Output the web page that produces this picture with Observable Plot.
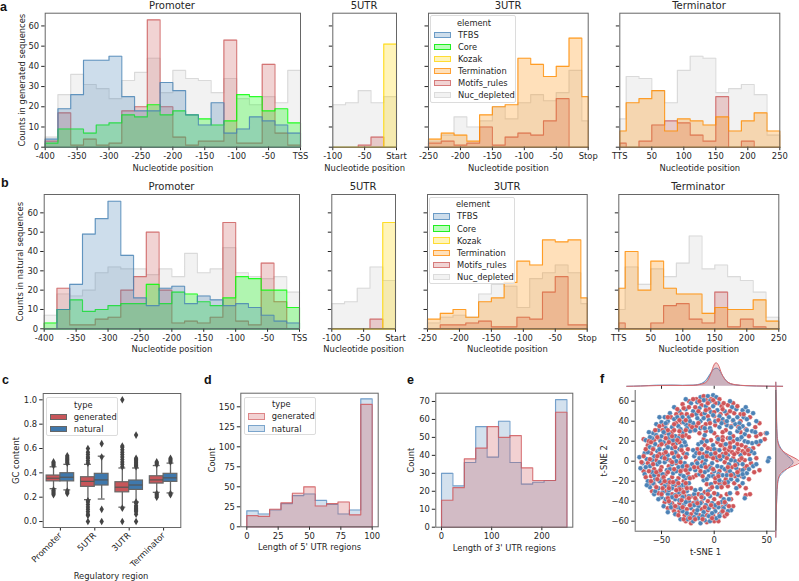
<!DOCTYPE html>
<html><head><meta charset="utf-8">
<script src="https://cdn.jsdelivr.net/npm/d3@7"></script>
<script src="https://cdn.jsdelivr.net/npm/@observablehq/plot@0.6"></script>
<style>
html,body{margin:0;padding:0;background:#fff;overflow:hidden}
#page{position:relative;width:799px;height:581px;font-family:"DejaVu Sans",sans-serif;color:#262626;overflow:hidden}
#page svg{position:absolute;background:transparent;overflow:visible}
.t{position:absolute;white-space:nowrap}
.title{font-size:10px;transform:translate(-50%,-50%)}
.xl{font-size:8.4px;transform:translate(-50%,-50%)}
.letter{font-family:"Liberation Sans",sans-serif;font-weight:bold;font-size:12.5px;line-height:1;color:#111;transform:translateY(-50%)}
.lg{position:absolute;background:rgba(255,255,255,.8);border:1px solid #dcdcdc;border-radius:2px;box-sizing:border-box;font-size:8.3px}
.lg .s{position:absolute;box-sizing:border-box}
.lg .l{position:absolute;transform:translateY(-50%);white-space:nowrap}
</style></head><body><div id="page"></div>
<script>
// ---------- histogram bins
const promoterEdges=[-400,-380,-360,-340,-320,-300,-280,-260,-240,-220,-200,-180,-160,-140,-120,-100,-80,-60,-40,-20,0];
const fiveEdges=[-100,-80,-60,-40,-20,0];
const threeEdges=[-250,-230,-210,-190,-170,-150,-130,-110,-90,-70,-50,-30,-10,0];
const termEdges=[0,10,30,50,70,90,110,130,150,170,190,210,230,250];
// ---------- panel a, generated
const aPromTFBS=[4,19,26,43,43,45,25,18,18,32,28,16,11,22,7,9,15,13,11,7];
const aPromCore=[2,9,9,7,11,12,16,15,21,16,18,16,14,11,13,26,25,18,19,12];
const aPromMotif=[3,17,1,4,1,2,18,20,63,20,5,1,3,3,53,2,2,41,7,1];
const aPromNuc=[5,26,36,31,29,24,33,37,44,27,38,34,33,27,34,24,21,25,22,38];
const aFiveKozak=[0,0,0,0,51];
const aFiveMotif=[0,0,1,5,0];
const aFiveNuc=[21,22,28,22,25];
const aThreeTerm=[4,7,6,3,16,20,21,44,41,35,40,54,25];
const aThreeMotif=[2,3,1,2,10,1,5,7,6,13,24,0,0];
const aThreeNuc=[3,6,15,10,13,20,14,22,26,23,27,38,13];
const aTermTerm=[8,22,24,28,8,14,13,11,15,8,13,17,8];
const aTermMotif=[2,0,3,11,13,12,6,3,25,0,3,0,0];
const aTermNuc=[14,35,34,28,22,38,45,44,27,29,31,26,6];
// ---------- panel b, natural
const bPromTFBS=[0,10,23,49,57,66,38,16,12,21,22,13,17,15,12,13,11,7,4,3];
const bPromCore=[3,10,15,9,10,12,13,13,23,13,19,18,14,12,16,27,26,20,20,11];
const bPromMotif=[0,21,2,2,5,6,20,27,50,20,3,4,3,6,55,4,2,34,14,0];
const bPromNuc=[7,18,17,20,29,32,31,31,28,31,27,39,29,31,42,29,27,26,27,19];
const bFiveKozak=[0,0,0,0,55];
const bFiveMotif=[0,0,0,5,0];
const bFiveNuc=[13,14,21,32,25];
const bThreeTerm=[5,8,10,6,14,16,24,35,33,46,45,46,16];
const bThreeMotif=[0,2,2,3,4,1,1,6,5,19,27,2,2];
const bThreeNuc=[3,6,7,6,18,23,22,11,26,29,33,29,13];
const bTermTerm=[21,40,20,35,21,18,18,8,11,10,10,15,4];
const bTermMotif=[3,0,0,3,12,13,5,3,19,1,5,1,0];
const bTermNuc=[10,32,23,31,27,34,48,31,33,27,25,19,6];
// ---------- ticks
const promTicks=[-400,-350,-300,-250,-200,-150,-100,-50,0];
const fiveTicks=[-100,-50,0];
const threeTicks=[-250,-200,-150,-100,-50,0];
const termTicks=[0,50,100,150,200,250];
const countTicks=[0,10,20,30,40,50,60];
// ---------- panel c
const regions=["Promoter","5UTR","3UTR","Terminator"];
const genQ1=[.33,.285,.24,.312],genMed=[.356,.33,.282,.342],genQ3=[.378,.364,.323,.372],genLo=[.27,.18,.118,.24],genHi=[.45,.47,.44,.46];
const natQ1=[.33,.296,.26,.326],natMed=[.364,.342,.30,.359],natQ3=[.397,.392,.337,.392],natLo=[.26,.185,.16,.235],natHi=[.47,.537,.44,.48];
const genOutliers=[[0,[.22,.23,.24,.25,.26,.46,.47,.48,.49]],[1,[0,.05,.06,.08,.1,.12,.14,.16,.17,.48,.5,.52,.53,.55,.57,.6]],[2,[0,.11,.45,.47,.49,.51,.53,.55,.57,.59,.61,.62,1]],[3,[.2,.21,.22,.23,.47,.48,.49]]];
const natOutliers=[[0,[.23,.24,.25,.48,.49,.5,.51,.52,.53,.54]],[1,[0,.1,.53,.64]],[2,[0,.06,.08,.09,.1,.11,.12,.13,.15,.16,.45,.46,.47,.48,.49,.5,.51,.52,.71]],[3,[.22,.23,.49,.5,.51,.52]]];
// ---------- panel d, e
const dEdges=[0,9.09,18.18,27.27,36.36,45.45,54.55,63.64,72.73,81.82,90.91,100];
const dNatural=[20,16,21,29,39,41,33,28,16,21,160];
const dGenerated=[14,13,22,30,42,50,26,29,31,15,153];
const eEdges=[0,22.7,45.5,68.2,90.9,113.6,136.4,159.1,181.8,204.5,227.3,250];
const eNatural=[30,23,36,56,39,59,36,24,25,26,71];
const eGenerated=[15,22,38,44,56,50,51,33,26,26,64];
// ---------- panel f
const tsneNatural=[[-13,64],[-6,65],[-1,66],[2,64],[-4,60],[-10,61],[-16,59],[-22,58],[-27,62],[4,58],[-1,55],[-8,55],[-14,53],[-20,50],[-27,52],[-33,50],[-38,54],[-42,48],[-47,44],[-52,44],[-50,39],[-55,37],[-44,40],[-38,42],[-30,44],[-24,44],[-17,47],[-9,48],[-3,49],[3,51],[10,50],[15,60],[17,54],[21,52],[27,51],[30,54],[32,50],[37,48],[28,44],[22,44],[14,44],[8,42],[1,40],[-5,41],[-13,40],[-20,38],[-27,37],[-34,35],[-40,34],[-46,33],[-53,31],[-58,28],[-62,29],[-59,23],[-65,21],[-50,25],[-43,27],[-37,25],[-30,29],[-23,30],[-13,33],[-4,33],[5,34],[12,36],[20,37],[27,35],[33,37],[40,40],[36,30],[29,27],[22,30],[15,28],
[-56,17],[-48,19],[-42,21],[-36,18],[-30,22],[-27,16],[-33,12],[-40,13],[-47,11],[-54,10],[-61,14],[-66,8],[-71,4],[-64,2],[-57,5],[-50,4],[-44,6],[-38,4],[-32,3],[-26,7],[-68,-2],[-61,-5],[-54,-3],[-47,-1],[-40,-3],[-34,-6],[-28,-2],[-23,-8],[-70,-7],[-66,-13],[-59,-11],[-52,-10],[-45,-9],[-39,-12],[-32,-13],[-27,-17],[-63,-20],[-56,-18],[-49,-17],[-43,-19],[-36,-20],[-30,-24],[-24,-22],[-61,-26],[-53,-27],[-47,-25],[-40,-27],[-34,-31],[-26,-30],[-19,-33],[-13,-28],
[-57,-33],[-50,-36],[-44,-33],[-37,-38],[-30,-36],[-24,-40],[-17,-39],[-10,-37],[-4,-35],[3,-33],[9,-38],[-48,-45],[-42,-42],[-35,-46],[-29,-44],[-22,-47],[-15,-45],[-8,-44],[-2,-42],[4,-46],[11,-43],[16,-49],[-44,-51],[-37,-53],[-30,-50],[-24,-56],[-17,-52],[-10,-51],[-5,-55],[1,-50],[7,-51],[13,-50],[-32,-58],[-25,-58],[-20,-60],[-13,-62],[-9,-59],[-4,-60],[2,-57],[-15,-57],
[-19,5],[-21,-3],[-18,-9],[-20,11],[-15,17],[-12,12],[-14,3],[-12,-5],[-14,-13],[-10,-19],[-7,20],[-7,9],[-8,1],[-6,-9],[-5,-15],[-3,-23],[-1,16],[0,6],[-2,-2],[0,-10],[2,-17],[3,-26],[4,22],[5,11],[6,2],[7,-6],[8,-14],[9,-21],[11,17],[13,6],[14,-3],[15,-10],[16,-18],[19,14],[20,0],[21,-7],[23,-14],[25,6],[27,-3],
[33,12],[38,8],[29,20],[36,18],[52,3],[51,0],[50,28],[44,20],[37,-5],[31,-12],[27,-22],[21,-27],[29,-37],[15,-32],[34,2],[24,22],
[-46,38],[-35,44],[-29,39],[-23,40],[-16,43],[-10,43],[-1,46],[5,45],[18,41],[24,38],[31,42],[-32,32],[-26,33],[-18,31],[-9,26],[-3,30],[-48,29],[-55,26],[-61,24],[-44,23],[-39,21],[-34,23],[-28,19],[-51,20],[-58,13],[-52,12],[-44,14],[-37,9],[-31,15],[-63,9],[-59,1],[-52,-1],[-45,2],[-36,0],[-30,-5],[-25,-5],[-65,-6],[-57,-14],[-49,-13],[-42,-8],[-36,-10],[-29,-15],[-24,-16],[-64,-24],[-58,-22],[-52,-20],[-45,-21],[-39,-23],[-33,-26],[-27,-25],[-56,-30],[-49,-31],[-43,-29],[-37,-34],[-30,-31],[-24,-35],[-18,-29],[-12,-34],[-6,-30],[-53,-38],[-46,-38],[-40,-36],[-33,-39],[-27,-41],[-19,-44],[-13,-42],[-5,-47],[1,-44],[7,-41],[14,-38],[-41,-46],[-32,-47],[-26,-52],[-19,-56],[-11,-55],[-2,-52],[5,-55],[-16,-49],[9,-47],
[-17,8],[-16,-2],[-11,4],[-9,-3],[-9,-11],[-7,-18],[-12,19],[-3,7],[-3,-7],[-1,-15],[2,4],[3,-5],[4,-13],[5,-19],[7,-25],[0,12],[9,5],[10,-8],[12,-14],[13,-21],[16,1],[18,-13],[22,-3],[22,-19],[27,-9],[28,-16],[15,23],[22,22],[12,40],[7,38],[-9,33],[16,34],[24,33],[31,31],[39,29],[26,24],[32,19],[40,19],[35,10],[40,-3],[33,-8],[27,-13]];
const tsneGenerated=[[-10,65],[-8,61],[-3,62],[5,62],[-17,62],[-24,60],[-30,57],[-12,56],[-5,52],[1,58],[7,55],[13,56],[18,58],[-18,54],[-24,54],[-31,47],[-36,47],[-45,38],[-41,44],[-26,47],[-12,47],[-6,45],[0,45],[6,47],[12,47],[19,48],[25,47],[34,44],[39,34],[43,38],[18,40],[25,40],[30,32],[11,31],[1,36],[-8,37],[-17,35],[-24,36],[-31,39],[-36,38],[-48,36],[-52,22],
[-67,22],[-63,16],[-57,21],[-47,28],[-40,29],[-33,25],[-27,26],[-20,31],[-14,28],[-8,30],[0,28],[8,29],[18,25],[25,29],[33,25],[40,25],[44,27],[48,22],[49,28],[42,17],[37,13],[30,14],[33,7],[40,3],[35,-2],[29,-7],[38,-11],[43,-9],[33,-18],[26,-15],[30,-27],[22,-32],[16,-38],[30,-34],[34,-33],[24,-25],
[-52,15],[-45,16],[-39,17],[-33,19],[-25,12],[-29,8],[-36,8],[-42,1],[-48,7],[-55,1],[-60,8],[-67,5],[-63,-2],[-57,-8],[-50,-6],[-43,-5],[-36,-2],[-30,-8],[-25,-12],[-20,-16],[-67,-10],[-60,-15],[-53,-14],[-46,-13],[-40,-16],[-34,-17],[-29,-20],[-22,-27],[-65,-16],[-62,-24],[-57,-23],[-50,-22],[-44,-24],[-37,-24],[-31,-28],[-59,-30],[-53,-32],[-46,-30],[-40,-33],[-33,-33],[-28,-35],[-22,-35],[-15,-33],[-9,-31],[-4,-28],
[-47,-41],[-40,-42],[-33,-42],[-26,-39],[-20,-42],[-12,-41],[-6,-40],[0,-38],[6,-35],[12,-33],[18,-45],[8,-46],[0,-46],[-6,-49],[-12,-48],[-19,-50],[-26,-48],[-33,-50],[-40,-47],[-44,-47],[-38,-50],[-28,-54],[-22,-53],[-14,-54],[-7,-54],[-1,-54],[5,-53],[10,-55],[-27,-60],[-22,-62],[-7,-61],[0,-60],[4,-60],[12,-53],
[3,24],[8,24],[13,23],[18,20],[22,17],[-3,21],[-10,22],[-16,12],[-17,0],[-15,-6],[-17,-14],[-11,-1],[-10,7],[-9,16],[-3,12],[-4,5],[-4,-5],[-2,-13],[1,-21],[-7,-23],[3,1],[2,11],[3,19],[8,16],[8,7],[10,12],[10,-1],[14,11],[15,18],[17,9],[18,3],[17,-6],[12,-10],[11,-18],[5,-10],[5,-22],[13,-25],[19,-22],[20,-15],[24,-9],[24,1],[27,10],[26,16],[29,1],[31,-5],[22,9],
[-20,62],[-14,60],[-6,58],[-1,61],[9,58],[-29,53],[-35,52],[-21,46],[-15,50],[-8,51],[0,49],[8,52],[15,50],[22,55],[28,47],[-44,44],[-38,37],[-33,41],[-27,41],[-21,34],[-15,38],[-11,34],[-4,38],[4,41],[10,39],[16,35],[23,34],[-52,35],[-56,31],[-49,31],[-44,31],[-38,31],[-33,30],[-27,31],
[-62,20],[-54,24],[-46,23],[-40,25],[-35,21],[-30,25],[-24,24],[-60,19],[-50,17],[-43,19],[-37,14],[-31,11],[-27,4],[-34,5],[-40,8],[-46,9],[-52,7],[-58,12],[-65,12],[-69,-1],[-61,2],[-54,5],[-47,3],[-40,-1],[-32,-1],[-26,-5],[-58,-3],[-51,-9],[-44,-11],[-38,-8],[-32,-10],[-27,-9],[-62,-10],[-55,-11],[-48,-16],[-42,-21],[-34,-22],[-27,-22],[-23,-17],[-60,-20],[-54,-18],[-47,-20],[-39,-21],[-33,-28],[-26,-27],[-55,-26],[-49,-27],[-43,-27],[-36,-29],[-29,-31],[-50,-33],[-44,-37],[-36,-35],[-31,-39],[-24,-37],[-18,-37],[-12,-36],[-6,-33],[0,-32],[-43,-40],[-37,-45],[-30,-46],[-23,-44],[-16,-42],[-9,-46],[-3,-44],[4,-42],[10,-41],[-34,-54],[-29,-58],[-23,-57],[-18,-58],[-11,-58],[-2,-57],[8,-50],[14,-45],
[-14,8],[-19,-6],[-13,-10],[-11,-15],[-8,-6],[-7,5],[-6,13],[-1,3],[-1,-8],[1,-17],[1,8],[5,5],[4,-15],[6,16],[8,21],[11,8],[12,3],[13,-6],[15,14],[16,-14],[19,7],[20,-4],[22,-11],[23,12],[26,3],[29,8],[32,11],[10,-22],[7,-26],[-2,-26]];
const kdeXPos=[-83,-70,-55,-40,-30,-20,-12,-7,-3,0,2,4,7,10,14,20,30,40,52,65];
const kdeXGen=[0,.01,.03,.04,.035,.04,.09,.2,.55,.92,1,.9,.55,.3,.15,.07,.03,.015,.005,0];
const kdeXNat=[0,.015,.045,.05,.04,.05,.12,.3,.58,.74,.77,.74,.52,.32,.14,.06,.025,.01,.005,0];
const kdeYPos=[79,60,40,25,16,10,6,3,0,-1,-3,-6,-10,-15,-22,-35,-50,-65,-76];
const kdeYGen=[0,.015,.03,.05,.12,.3,.55,.8,.98,1,.9,.6,.3,.13,.07,.04,.02,.005,0];
const kdeYNat=[0,.02,.035,.06,.14,.3,.45,.6,.7,.72,.68,.55,.35,.16,.08,.045,.02,.005,0];
// ---------- colours
const C={TFBS:"#4682b4",Core:"#00ff00",Kozak:"#ffd700",Termination:"#ff8c00",Motifs:"#cd5c5c",Nuc:"#d3d3d3"};
const NAT_S="#5b8fc0",GEN_S="#d0565a";

const page=document.getElementById("page");
function put(el){page.appendChild(el);return el}
function text(cls,x,y,s){const d=document.createElement("div");d.className="t "+cls;d.style.left=x+"px";d.style.top=y+"px";d.textContent=s;return put(d)}

const L=40,T=14,R=14,B=34;
function panel(x0,y0,x1,y1,opts){
  const left=Math.floor(x0)-L, top=Math.floor(y0)-T;
  const w=Math.ceil(x1)+R-left, h=Math.ceil(y1)+B-top;
  const svg=Plot.plot({width:w,height:h,marginLeft:x0-left,marginTop:y0-top,marginRight:w-(x1-left),marginBottom:h-(y1-top),
    style:{fontFamily:"DejaVu Sans",fontSize:"8.4px",color:"#262626",background:"transparent",overflow:"visible"},...opts});
  svg.style.left=left+"px";svg.style.top=top+"px";svg.style.maxWidth="none";
  return put(svg);
}
function steps(edges,vals){
  const n=edges.length-1,p=[{x:edges[0],y:0}];
  vals.forEach((v,i)=>p.push({x:edges[i],y:v}));
  p.push({x:edges[n],y:vals[vals.length-1]},{x:edges[n],y:0},{x:edges[0],y:0});
  return p;
}
function hist(edges,vals,color,fo=.27,so=.8,sw=1.15){
  const p=steps(edges,vals);
  return [Plot.areaY(p,{x:"x",y1:()=>0,y2:"y",curve:"step-after",fill:color,fillOpacity:fo}),
          Plot.line(p,{x:"x",y:"y",curve:"step-after",stroke:color,strokeOpacity:so,strokeWidth:sw})];
}
const posFmt=z=>d=>d===0?z:String(d);
function xAxis(ticks,fmt,label,off=23.5){return Plot.axisX({ticks,tickFormat:fmt,tickSize:3.5,tickPadding:2.5,label,labelAnchor:"center",labelArrow:"none",labelOffset:off})}
function yAxis(ticks,label,off,fmt){return Plot.axisY({ticks,tickFormat:fmt,tickSize:3.5,tickPadding:2.5,label,labelAnchor:"center",labelArrow:"none",labelOffset:off})}
function yCount(yl,off){return yl?yAxis(countTicks,yl,off):Plot.axisY({ticks:countTicks,tickSize:3.5,tickFormat:()=>"",label:null})}
function regionPanel(box,dom,ymax,edges,series,ticks,fmt,yl,off){
  const marks=[];
  series.forEach(([v,c])=>marks.push(...hist(edges,v,c,c===C.Nuc?.3:.27,c===C.Nuc?.8:.8)));
  panel(...box,{x:{domain:dom},y:{domain:[0,ymax]},marks:[...marks,xAxis(ticks,fmt,"Nucleotide position"),yCount(yl,off),Plot.frame({stroke:"#666"})]});
}
const zero5=fiveEdges.slice(1).map(()=>0),zero3=threeEdges.slice(1).map(()=>0),zeroT=termEdges.slice(1).map(()=>0);
function row(y0,y1,dx,ymax,yl,off,d){
  regionPanel([44.7-dx,y0,300-dx,y1],[-400,0],ymax,promoterEdges,[[d.pn,C.Nuc],[d.pm,C.Motifs],[d.pc,C.Core],[d.pt,C.TFBS]],promTicks,posFmt("TSS"),yl,off);
  regionPanel([332.3-dx,y0,396-dx,y1],[-100,0],ymax,fiveEdges,[[zero5,C.Core],[d.fn,C.Nuc],[d.fm,C.Motifs],[d.fk,C.Kozak]],fiveTicks,posFmt("Start"));
  regionPanel([428-dx,y0,587.7-dx,y1],[-250,0],ymax,threeEdges,[[zero3,C.Core],[d.tn,C.Nuc],[d.tm,C.Motifs],[d.tt,C.Termination]],threeTicks,posFmt("Stop"));
  regionPanel([619.3-dx,y0,779.3-dx,y1],[0,250],ymax,termEdges,[[zeroT,C.Core],[d.en,C.Nuc],[d.em,C.Motifs],[d.et,C.Termination]],termTicks,posFmt("TTS"));
}
row(12.7,146.7,0,66.3,"Counts in generated sequences",26.3,{pn:aPromNuc,pm:aPromMotif,pc:aPromCore,pt:aPromTFBS,fn:aFiveNuc,fm:aFiveMotif,fk:aFiveKozak,tn:aThreeNuc,tm:aThreeMotif,tt:aThreeTerm,en:aTermNuc,em:aTermMotif,et:aTermTerm});
row(194,328.3,1,69.5,"Counts in natural sequences",27,{pn:bPromNuc,pm:bPromMotif,pc:bPromCore,pt:bPromTFBS,fn:bFiveNuc,fm:bFiveMotif,fk:bFiveKozak,tn:bThreeNuc,tm:bThreeMotif,tt:bThreeTerm,en:bTermNuc,em:bTermMotif,et:bTermTerm});

// panel c
function boxes(q1,med,q3,lo,hi,side){return regions.map((r,i)=>({i,q1:q1[i],med:med[i],q3:q3[i],lo:lo[i],hi:hi[i],c:i+side*.2,a:side<0?i-.4:i,b:side<0?i:i+.4}))}
const bGen=boxes(genQ1,genMed,genQ3,genLo,genHi,-1),bNat=boxes(natQ1,natMed,natQ3,natLo,natHi,1);
const allB=[...bGen,...bNat];
const outs=[...genOutliers.flatMap(([i,v])=>v.map(y=>({x:i-.2,y}))),...natOutliers.flatMap(([i,v])=>v.map(y=>({x:i+.2,y})))];
panel(42.7,393,180.3,527,{x:{domain:[-.5,3.5]},y:{domain:[-.049,1.052]},marks:[
  Plot.ruleX(allB,{x:"c",y1:"lo",y2:"hi",stroke:"#666",strokeWidth:1.3}),
  Plot.ruleY(allB,{y:"lo",x1:d=>d.c-.1,x2:d=>d.c+.1,stroke:"#666",strokeWidth:1.3}),
  Plot.ruleY(allB,{y:"hi",x1:d=>d.c-.1,x2:d=>d.c+.1,stroke:"#666",strokeWidth:1.3}),
  Plot.dot(outs,{x:"x",y:"y",symbol:"diamond",r:2.3,fill:"#444"}),
  Plot.rect(bGen,{x1:"a",x2:"b",y1:"q1",y2:"q3",fill:"#c8565a",stroke:"#666",strokeWidth:1.2}),
  Plot.rect(bNat,{x1:"a",x2:"b",y1:"q1",y2:"q3",fill:"#3f78ac",stroke:"#666",strokeWidth:1.2}),
  Plot.ruleY(allB,{y:"med",x1:"a",x2:"b",stroke:"#555",strokeWidth:1.2}),
  Plot.axisX({ticks:[0,1,2,3],tickFormat:d=>regions[d],tickRotate:-45,tickSize:3.5,tickPadding:3,label:null}),
  yAxis([0,.2,.4,.6,.8,1],"GC content",30,d3.format(".1f")),
  Plot.frame({stroke:"#666"})]});
text("xl",111,365+634/3,"Regulatory region");

// panel d
panel(240.3,392.7,377.7,526.3,{x:{domain:[-4.8,104.8]},y:{domain:[0,167]},marks:[
  ...hist(dEdges,dNatural,NAT_S),...hist(dEdges,dGenerated,GEN_S),
  xAxis([0,25,50,75,100],String,"Length of 5' UTR regions"),
  yAxis([0,25,50,75,100,125,150],"Count",32),
  Plot.frame({stroke:"#666"})]});
// panel e
panel(435.3,392.7,572.3,526.7,{x:{domain:[-11.4,261.7]},y:{domain:[0,74.6]},marks:[
  ...hist(eEdges,eNatural,NAT_S),...hist(eEdges,eGenerated,GEN_S),
  xAxis([0,100,200],String,"Length of 3' UTR regions"),
  yAxis([0,10,20,30,40,50,60,70],"Count",27.3),
  Plot.frame({stroke:"#666"})]});
// panel f
const fx=[-75,58.5],fy=[-70,70.7];
const pts=[];
for(let i=0;i<Math.max(tsneNatural.length,tsneGenerated.length);i++){
  if(tsneNatural[i])pts.push({x:tsneNatural[i][0],y:tsneNatural[i][1],c:"#4c82b6"});
  if(tsneGenerated[i])pts.push({x:tsneGenerated[i][0],y:tsneGenerated[i][1],c:"#cf5558"});
}
panel(634.7,390,775.3,530.7,{x:{domain:fx},y:{domain:fy},marks:[
  Plot.dot(pts,{x:"x",y:"y",r:2.45,fill:"c",stroke:"#fff",strokeWidth:.35}),
  Plot.ruleX([fx[0]],{stroke:"#666"}),Plot.ruleY([fy[0]],{stroke:"#666"}),
  Plot.axisX({ticks:[-50,0,50],tickFormat:d3.format("d"),tickSize:3.5,tickPadding:2.5,label:"t-SNE 1",labelAnchor:"center",labelArrow:"none",labelOffset:23.5}),
  yAxis([-60,-40,-20,0,20,40,60],"t-SNE 2",34,d3.format("d"))]});
// top marginal
const topN=kdeXPos.map((x,i)=>({x,y:kdeXNat[i]})),topG=kdeXPos.map((x,i)=>({x,y:kdeXGen[i]}));
const topSvg=Plot.plot({width:190,height:36,marginLeft:18.7,marginRight:190-159.3,marginTop:6.3,marginBottom:6.2,
  style:{background:"transparent",overflow:"visible"},x:{domain:fx,axis:null},y:{domain:[0,1],axis:null},
  marks:[Plot.areaY(topN,{x:"x",y1:()=>0,y2:"y",curve:"monotone-x",fill:"#4c82b6",fillOpacity:.3}),
         Plot.line(topN,{x:"x",y:"y",curve:"monotone-x",stroke:"#5b8fc0",strokeWidth:1}),
         Plot.areaY(topG,{x:"x",y1:()=>0,y2:"y",curve:"monotone-x",fill:"#cf5558",fillOpacity:.3}),
         Plot.line(topG,{x:"x",y:"y",curve:"monotone-x",stroke:"#d9686c",strokeWidth:1}),
         Plot.axisX({ticks:[-50,0,50],tickFormat:()=>"",tickSize:3,label:null})]});
topSvg.style.left="616px";topSvg.style.top="356px";put(topSvg);
// right marginal
const rightN=kdeYPos.map((y,i)=>({y,x:kdeYNat[i]})),rightG=kdeYPos.map((y,i)=>({y,x:kdeYGen[i]}));
const rightSvg=Plot.plot({width:30,height:190,marginLeft:5.3,marginRight:.7,marginTop:20,marginBottom:29.3,
  style:{background:"transparent",overflow:"visible"},x:{domain:[0,1],axis:null},y:{domain:fy,axis:null},
  marks:[Plot.areaX(rightN,{y:"y",x1:()=>0,x2:"x",curve:"monotone-y",fill:"#4c82b6",fillOpacity:.3}),
         Plot.line(rightN,{x:"x",y:"y",curve:"monotone-y",stroke:"#5b8fc0",strokeWidth:1}),
         Plot.areaX(rightG,{y:"y",x1:()=>0,x2:"x",curve:"monotone-y",fill:"#cf5558",fillOpacity:.3}),
         Plot.line(rightG,{x:"x",y:"y",curve:"monotone-y",stroke:"#d9686c",strokeWidth:1}),
         Plot.ruleX([0],{stroke:"#666"})]});
rightSvg.style.left="770px";rightSvg.style.top="370px";put(rightSvg);

// titles
[[172,5,"Promoter"],[364,5,"5UTR"],[508,5,"3UTR"],[699,5,"Terminator"],[171.5,186,"Promoter"],[363,186,"5UTR"],[507,186,"3UTR"],[698,186,"Terminator"]].forEach(([x,y,s])=>text("title",x,y,s));
[[0,6.5,"a"],[1,183,"b"],[2,380,"c"],[204,380,"d"],[407,380,"e"],[600,379,"f"]].forEach(([x,y,s])=>text("letter",x,y,s));

// legends
function legend(x,y,w,h,title,titleX,sw,tx,rows){
  const d=document.createElement("div");d.className="lg";Object.assign(d.style,{left:x+"px",top:y+"px",width:w+"px",height:h+"px"});
  const lab=(s,lx,ly)=>{const e=document.createElement("div");e.className="l";e.style.left=lx+"px";e.style.top=ly+"px";e.textContent=s;d.appendChild(e);return e};
  const t=lab(title,titleX,6.7);t.style.transform="translate(-50%,-50%)";
  rows.forEach(([s,fill,stroke],i)=>{const yy=18.8+i*12.1;lab(s,tx,yy);
    const q=document.createElement("div");q.className="s";Object.assign(q.style,{left:sw[0]+"px",width:sw[1]+"px",top:(yy-3.2)+"px",height:"6.4px",background:fill,border:"1px solid "+stroke});d.appendChild(q)});
  put(d);
}
const el=[["TFBS","rgba(70,130,180,.27)","#6b9bc6"],["Core","rgba(0,255,0,.27)","#22ee22"],["Kozak","rgba(255,215,0,.27)","#ffdc33"],["Termination","rgba(255,140,0,.27)","#ffa033"],["Motifs_rules","rgba(205,92,92,.27)","#d67b7b"],["Nuc_depleted","rgba(211,211,211,.3)","#dcdcdc"]];
legend(430,15,86.3,87.5,"element",43,[3,17],27,el);
legend(429,196.7,86.3,87.5,"element",43,[3,17],27,el);
const ct=[["generated","#c8565a","#666"],["natural","#3f78ac","#666"]];
legend(46.3,397.3,72,38.5,"type",36,[3,17],26.5,ct);
const dt=[["generated","rgba(208,86,90,.27)","#dd8587"],["natural","rgba(91,143,192,.27)","#7ba5cc"]];
legend(244.3,396.7,72,38.5,"type",36,[3,17],26.5,dt);
</script></body></html>
